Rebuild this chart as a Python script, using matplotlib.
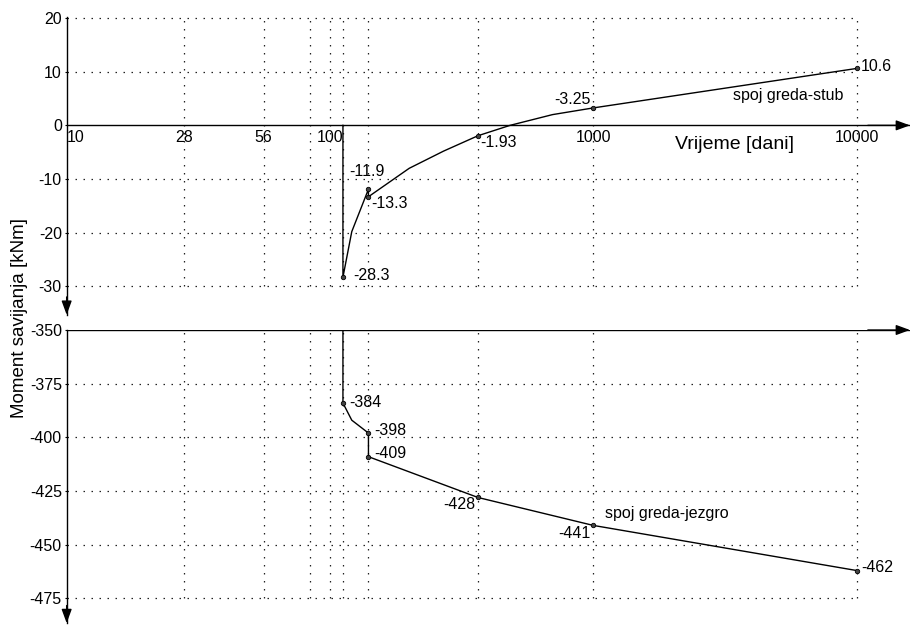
import matplotlib
matplotlib.use("Agg")
import matplotlib.pyplot as plt

plt.rcParams['font.family'] = ['Liberation Sans', 'DejaVu Sans']
plt.rcParams['axes.unicode_minus'] = False

# --- Data: bending moment vs. time (days), two joints

# beam-column joint (upper panel)
t_stub = [112, 112, 121, 140, 140, 200, 270, 365, 483, 700, 1000, 10000]
m_stub = [0.0, -28.3, -19.8, -11.9, -13.3, -8.0, -4.8, -1.93, 0.0, 2.0, 3.25, 10.6]
pts_stub_t = [112, 140, 140, 365, 1000, 10000]
pts_stub_m = [-28.3, -11.9, -13.3, -1.93, 3.25, 10.6]
lbl_stub = ["-28.3", "-11.9", "-13.3", "-1.93", "-3.25", "10.6"]

# beam-core joint (lower panel)
t_jezgro = [112, 112, 121, 140, 140, 365, 1000, 10000]
m_jezgro = [0.0, -384, -392, -398, -409, -428, -441, -462]
pts_jezgro_t = [112, 140, 140, 365, 1000, 10000]
pts_jezgro_m = [-384, -398, -409, -428, -441, -462]
lbl_jezgro = ["-384", "-398", "-409", "-428", "-441", "-462"]

x_ticks = [10, 28, 56, 100, 1000, 10000]
x_grid = [28, 56, 84, 100, 112, 140, 365, 1000, 10000]
y_ticks_top = [20, 10, 0, -10, -20, -30]
y_ticks_bot = [-350, -375, -400, -425, -450, -475]

# label placement: (ha, dx, dy) in pixels
pos_stub = [("left", 10, 2), ("left", -19, 18), ("left", 3, -7),
            ("left", 2, -7), ("right", -3, 8), ("left", 4, 2)]
pos_jezgro = [("left", 6, 1), ("left", 6, 3), ("left", 6, 3),
              ("right", -3, -7), ("right", -3, -8), ("left", 5, 3)]

fs = 11.5
dots = (0, (1.2, 5.2))

fig = plt.figure(figsize=(9.12, 6.25), dpi=100)
ax1 = fig.add_axes([0.0731, 0.4963, 0.9247, 0.4766])
ax2 = fig.add_axes([0.0731, 0.003, 0.9247, 0.469])

xmax = 10 ** (1 + 843.3 / 263.3)


def setup(ax, yticks, ylim, xaxis_y, xlabels):
    ax.set_xscale("log")
    ax.set_xlim(10, xmax)
    ax.set_ylim(*ylim)
    for s in ax.spines.values():
        s.set_visible(False)
    ax.spines["left"].set_visible(True)
    ax.spines["left"].set_linewidth(1.0)
    ax.minorticks_off()
    ax.set_yticks(yticks)
    ax.tick_params(axis="y", length=1.5, width=0.8, pad=2, labelsize=fs)
    ax.axhline(xaxis_y, color="black", lw=1.0, zorder=2)
    if xlabels:
        ax.set_xticks(x_ticks)
        ax.set_xticklabels([str(v) for v in x_ticks])
        ax.tick_params(axis="x", length=0, pad=3, labelsize=fs)
        ax.xaxis.set_ticks_position("bottom")
        ax.spines["bottom"].set_position(("data", xaxis_y))
        ax.get_xticklabels()[0].set_ha("left")
    else:
        ax.set_xticks([])

    # dotted grid, bounded to the tick range
    gy = [v for v in yticks if v != xaxis_y]
    ax.hlines(gy, 10, 10000, colors="#222222", linestyles=dots, lw=0.9, zorder=1)
    ax.vlines(x_grid, min(yticks), max(yticks), colors="#222222", linestyles=dots,
              lw=0.9, zorder=1)

    # arrow heads
    head = "-|>,head_length=0.6,head_width=0.22"
    ax.annotate("", xy=(0, 0), xycoords="axes fraction", xytext=(0, 0.06),
                arrowprops=dict(arrowstyle=head, color="black", lw=1.0,
                                mutation_scale=14, shrinkA=0, shrinkB=0))
    ax.annotate("", xy=(1, xaxis_y), xycoords=("axes fraction", "data"),
                xytext=(0.95, xaxis_y), textcoords=("axes fraction", "data"),
                arrowprops=dict(arrowstyle=head, color="black", lw=1.0,
                                mutation_scale=14, shrinkA=0, shrinkB=0))


setup(ax1, y_ticks_top, (-35.3, 20.2), 0, True)
setup(ax2, y_ticks_bot, (-486.5, -350), -350, False)

for ax, t, m, pt, pm, lbl, pos in [
    (ax1, t_stub, m_stub, pts_stub_t, pts_stub_m, lbl_stub, pos_stub),
    (ax2, t_jezgro, m_jezgro, pts_jezgro_t, pts_jezgro_m, lbl_jezgro, pos_jezgro),
]:
    ax.plot(t, m, color="black", lw=1.0, zorder=3)
    ax.plot(pt, pm, "o", ms=3.2, mfc="#444444", mec="black", mew=0.6, zorder=4)
    for x, y, s, (ha, dx, dy) in zip(pt, pm, lbl, pos):
        ax.annotate(s, xy=(x, y), xytext=(dx, dy), textcoords="offset pixels",
                    ha=ha, va="center", fontsize=fs)

ax1.text(3380, 5.6, "spoj greda-stub", ha="left", va="center", fontsize=fs)
ax2.text(1107, -435.4, "spoj greda-jezgro", ha="left", va="center", fontsize=fs)
ax1.text(3450, -3.5, "Vrijeme [dani]", ha="center", va="center", fontsize=14)
fig.text(0.021, 1 - 318 / 625, "Moment savijanja [kNm]", rotation=90,
         ha="center", va="center", fontsize=13.5)

fig.savefig("out.png", dpi=100, facecolor="white")
